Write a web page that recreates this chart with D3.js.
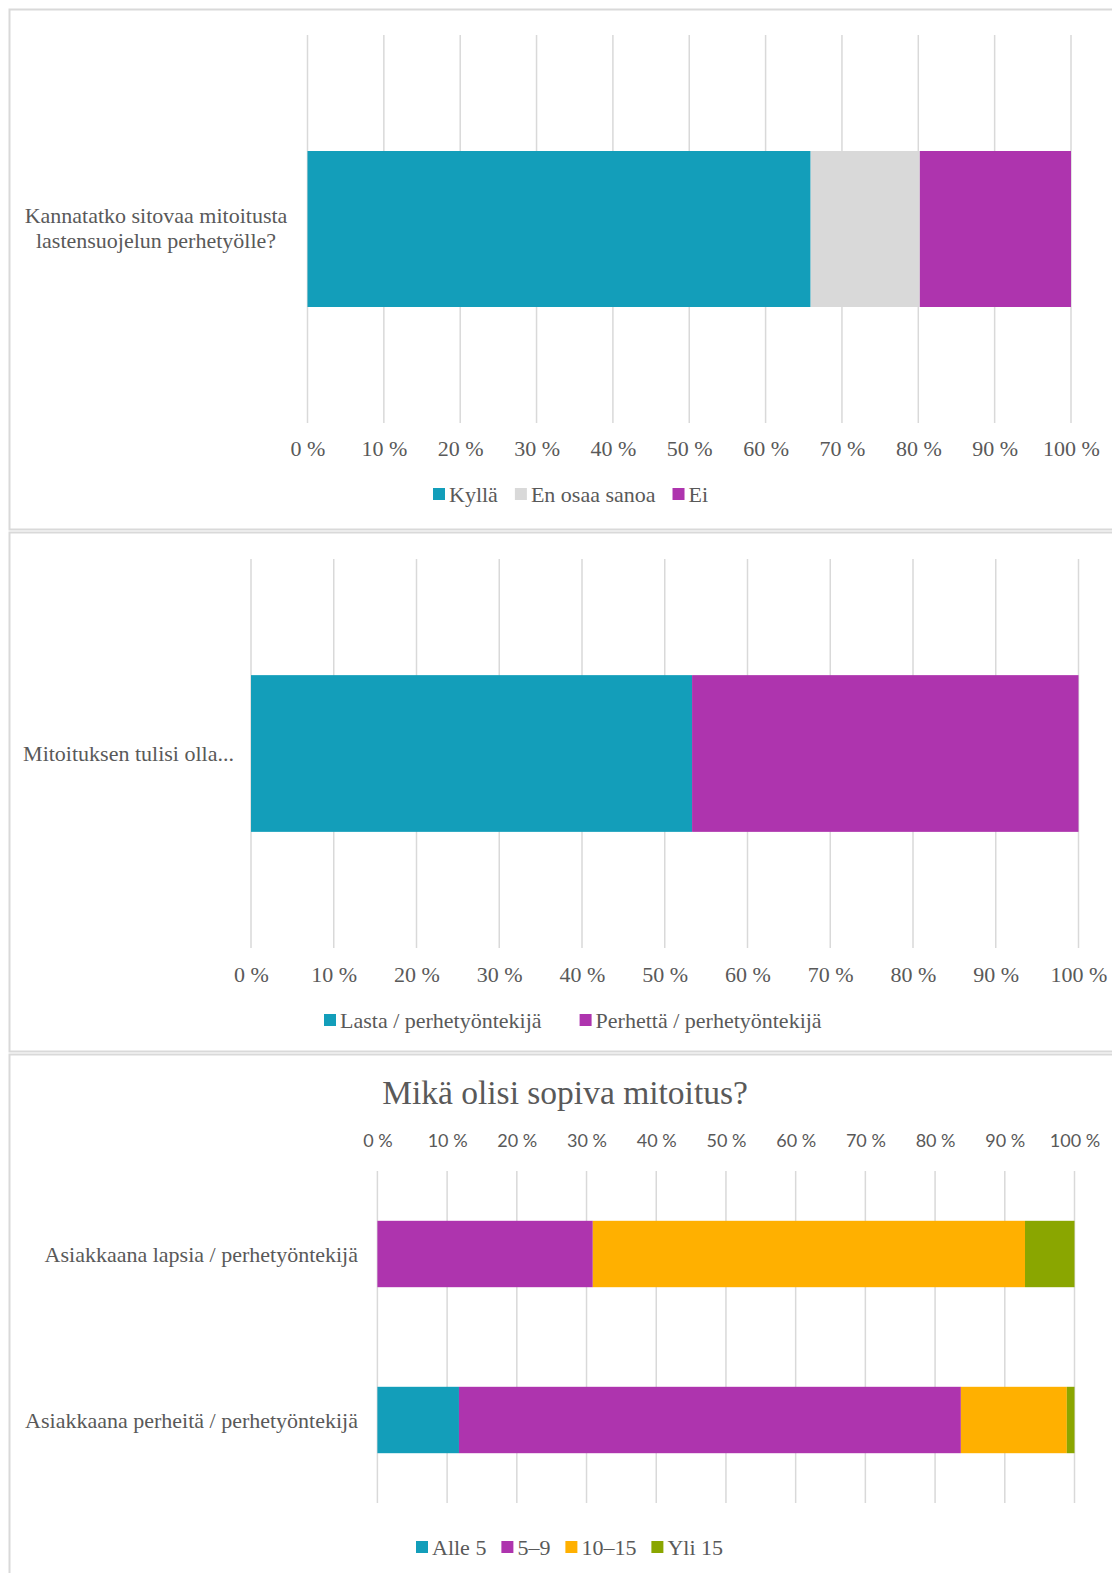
<!DOCTYPE html>
<html>
<head>
<meta charset="utf-8">
<script src="https://cdn.jsdelivr.net/npm/d3@7"></script>
<style>
  html, body { margin: 0; padding: 0; background: #fff; }
  svg { display: block; }
  .serif { font-family: "Liberation Serif", "Times New Roman", serif; }
  .sans { font-family: Lato, "Open Sans", sans-serif; }
</style>
</head>
<body>
<svg id="chart" width="1112" height="1573"></svg>
<script>
// ---------- DATA ----------
const q1Categories = ["Kannatatko sitovaa mitoitusta lastensuojelun perhetyölle?"];
const q1Series = ["Kyllä", "En osaa sanoa", "Ei"];
const q1Values = [[65.9, 14.3, 19.8]];

const q2Categories = ["Mitoituksen tulisi olla..."];
const q2Series = ["Lasta / perhetyöntekijä", "Perhettä / perhetyöntekijä"];
const q2Values = [[53.3, 46.7]];

const q3Title = "Mikä olisi sopiva mitoitus?";
const q3Categories = ["Asiakkaana lapsia / perhetyöntekijä", "Asiakkaana perheitä / perhetyöntekijä"];
const q3Series = ["Alle 5", "5–9", "10–15", "Yli 15"];
const q3Values = [[0, 30.9, 62.0, 7.1], [11.7, 72.0, 15.2, 1.1]];

const tickValues = [0, 10, 20, 30, 40, 50, 60, 70, 80, 90, 100];
const tickFormat = d => d + " %";

// ---------- STYLE ----------
const TEAL = "#139EBA", PURPLE = "#AE34AE", GREY = "#D9D9D9", ORANGE = "#FFB000", GREEN = "#8AA600";
const TEXT = "#595959", GRID = "#D9D9D9";
const q1Colors = [TEAL, GREY, PURPLE];
const q2Colors = [TEAL, PURPLE];
const q3Colors = [TEAL, PURPLE, ORANGE, GREEN];
const FS = 22;

const svg = d3.select("#chart");

// panel frames
function frame(y0, y1) {
  svg.append("path")
    .attr("d", `M1120,${y0}H9.5V${y1}H1120`)
    .attr("fill", "none").attr("stroke", "#D9D9D9").attr("stroke-width", 2);
}
frame(9.5, 529.5);
frame(532.5, 1051.5);
svg.append("path").attr("d", "M1120,1054.5H9.5V1600").attr("fill", "none").attr("stroke", "#D9D9D9").attr("stroke-width", 2);

function toRows(cats, series, values) {
  return cats.map((c, i) => {
    const row = { cat: c };
    series.forEach((s, j) => row[s] = values[i][j]);
    return row;
  });
}

function grid(x, y0, y1) {
  svg.append("g").selectAll("line").data(tickValues).join("line")
    .attr("x1", d => x(d)).attr("x2", d => x(d))
    .attr("y1", y0).attr("y2", y1)
    .attr("stroke", GRID).attr("stroke-width", 1.5);
}

function bars(x, y, cats, series, values, colors) {
  const rows = toRows(cats, series, values);
  const stacked = d3.stack().keys(series)(rows);
  svg.append("g").selectAll("g").data(stacked).join("g")
    .attr("fill", (d, i) => colors[i])
    .selectAll("rect").data(d => d).join("rect")
    .attr("x", d => x(d[0]))
    .attr("width", d => x(d[1]) - x(d[0]))
    .attr("y", d => y(d.data.cat))
    .attr("height", y.bandwidth());
}

function axis(x, yPos, orient, cls, size) {
  const ax = (orient === "top" ? d3.axisTop(x) : d3.axisBottom(x))
    .tickValues(tickValues).tickFormat(tickFormat).tickSize(0).tickPadding(0);
  const g = svg.append("g").attr("transform", `translate(0,${yPos})`).call(ax);
  g.select(".domain").remove();
  g.selectAll("text").attr("class", cls).attr("font-size", size).attr("fill", TEXT)
    .attr("dy", "0.35em").attr("y", 0);
  return g;
}

function legend(series, colors, startX, cy, gap, cls, size) {
  const g = svg.append("g");
  let cx = startX;
  series.forEach((s, i) => {
    g.append("rect").attr("x", cx).attr("y", cy - 6).attr("width", 12).attr("height", 12).attr("fill", colors[i]);
    const t = g.append("text").attr("class", cls).attr("x", cx + 16).attr("y", cy).attr("dy", "0.35em")
      .attr("font-size", size).attr("fill", TEXT).text(s);
    cx += 16 + t.node().getComputedTextLength() + gap;
  });
}

// ---------- PANEL 1 ----------
{
  const x = d3.scaleLinear().domain([0, 100]).range([307.5, 1071]);
  const y = d3.scaleBand().domain(q1Categories).range([35, 423]).paddingOuter(0.7436).paddingInner(0);
  grid(x, 35, 423);
  bars(x, y, q1Categories, q1Series, q1Values, q1Colors);
  axis(x, 448, "bottom", "serif", FS);
  const lines = ["Kannatatko sitovaa mitoitusta", "lastensuojelun perhetyölle?"];
  const cy = y(q1Categories[0]) + y.bandwidth() / 2;
  svg.append("text").attr("class", "serif").attr("font-size", FS).attr("fill", TEXT)
    .attr("text-anchor", "middle")
    .selectAll("tspan").data(lines).join("tspan")
    .attr("x", 156).attr("y", (d, i) => cy - 14 + i * 25).attr("dy", "0.35em").text(d => d);
  legend(q1Series, q1Colors, 433, 494, 17, "serif", FS);
}

// ---------- PANEL 2 ----------
{
  const x = d3.scaleLinear().domain([0, 100]).range([251, 1078.5]);
  const y = d3.scaleBand().domain(q2Categories).range([559, 948]).paddingOuter(0.741).paddingInner(0);
  grid(x, 559, 948);
  bars(x, y, q2Categories, q2Series, q2Values, q2Colors);
  axis(x, 974, "bottom", "serif", FS);
  svg.append("text").attr("class", "serif").attr("font-size", FS).attr("fill", TEXT)
    .attr("text-anchor", "middle").attr("x", 128.5)
    .attr("y", y(q2Categories[0]) + y.bandwidth() / 2).attr("dy", "0.35em").text(q2Categories[0]);
  legend(q2Series, q2Colors, 324, 1020, 38, "serif", FS);
}

// ---------- PANEL 3 ----------
{
  const x = d3.scaleLinear().domain([0, 100]).range([377.4, 1074.5]);
  const y = d3.scaleBand().domain(q3Categories).range([1171, 1503]).paddingInner(0.6).paddingOuter(0.3);
  svg.append("text").attr("class", "serif").attr("font-size", 33.5).attr("fill", TEXT)
    .attr("text-anchor", "middle").attr("x", 565).attr("y", 1104).text(q3Title);
  grid(x, 1171, 1503);
  bars(x, y, q3Categories, q3Series, q3Values, q3Colors);
  axis(x, 1141, "top", "sans", 18);
  svg.append("g").selectAll("text").data(q3Categories).join("text")
    .attr("class", "serif").attr("font-size", FS).attr("fill", TEXT)
    .attr("text-anchor", "end").attr("x", 358)
    .attr("y", d => y(d) + y.bandwidth() / 2).attr("dy", "0.35em").text(d => d);
  legend(q3Series, q3Colors, 416, 1547, 15, "serif", FS);
}
</script>
</body>
</html>
